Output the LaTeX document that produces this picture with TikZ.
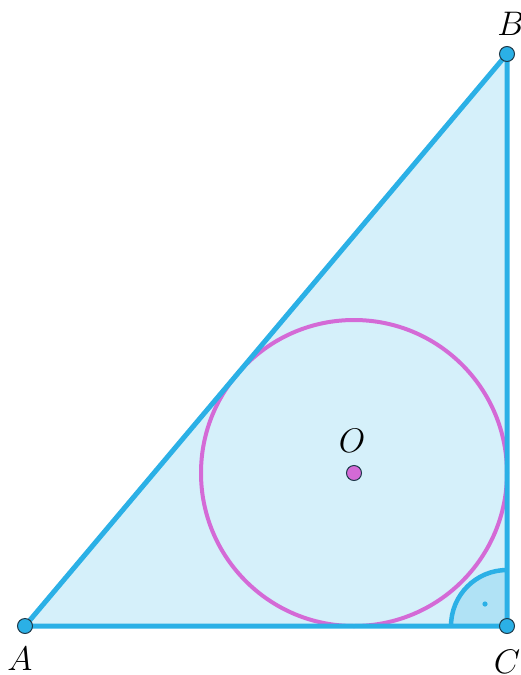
\documentclass[tikz,border=0pt]{standalone}
\usepackage{graphicx}
\usepackage{tikz}
\definecolor{edgeblue}{HTML}{2BB0E6}
\definecolor{fillblue}{HTML}{D5F0FA}
\definecolor{anglefill}{HTML}{B0E2F5}
\definecolor{circpink}{HTML}{D46AD6}
\definecolor{dotedge}{HTML}{1F3A4A}
\newcommand{\biglbl}[1]{\scalebox{1.37}{\Huge$#1$}}
\tikzset{
  vertexdot/.style={circle,fill=edgeblue,draw=dotedge,line width=1pt,inner sep=0pt,minimum size=15pt},
  centerdot/.style={circle,fill=circpink,draw=dotedge,line width=1pt,inner sep=0pt,minimum size=15pt},
  lbl/.style={inner sep=0pt}
}
\begin{document}
\begin{tikzpicture}[x=1pt,y=-1pt]
\useasboundingbox (0,0) rectangle (520,675);
\coordinate (A) at (25,626);
\coordinate (B) at (507,54);
\coordinate (C) at (507,626);
\coordinate (O) at (354,473);
\fill[fillblue] (A) -- (B) -- (C) -- cycle;
\fill[anglefill] (C) -- ++(-56,0) arc[start angle=180,end angle=270,radius=56] -- cycle;
\draw[edgeblue,line width=4.5pt] ([xshift=-56pt]C) arc[start angle=180,end angle=270,radius=56];
\fill[edgeblue] (485,604) circle (2.6);
\draw[circpink,line width=4pt] (O) circle (153);
\draw[edgeblue,line width=5pt,line join=round] (A) -- (B) -- (C) -- cycle;
\node[vertexdot] (Ad) at (A) {};
\node[vertexdot] (Bd) at (B) {};
\node[vertexdot] (Cd) at (C) {};
\node[centerdot] (Od) at (O) {};
\node[lbl] (lA) at (20,659) {\biglbl{A}};
\node[lbl] (lB) at (511,24) {\biglbl{B}};
\node[lbl] (lC) at (507,662) {\biglbl{C}};
\node[lbl] (lO) at (352,441) {\biglbl{O}};
\end{tikzpicture}
\end{document}
